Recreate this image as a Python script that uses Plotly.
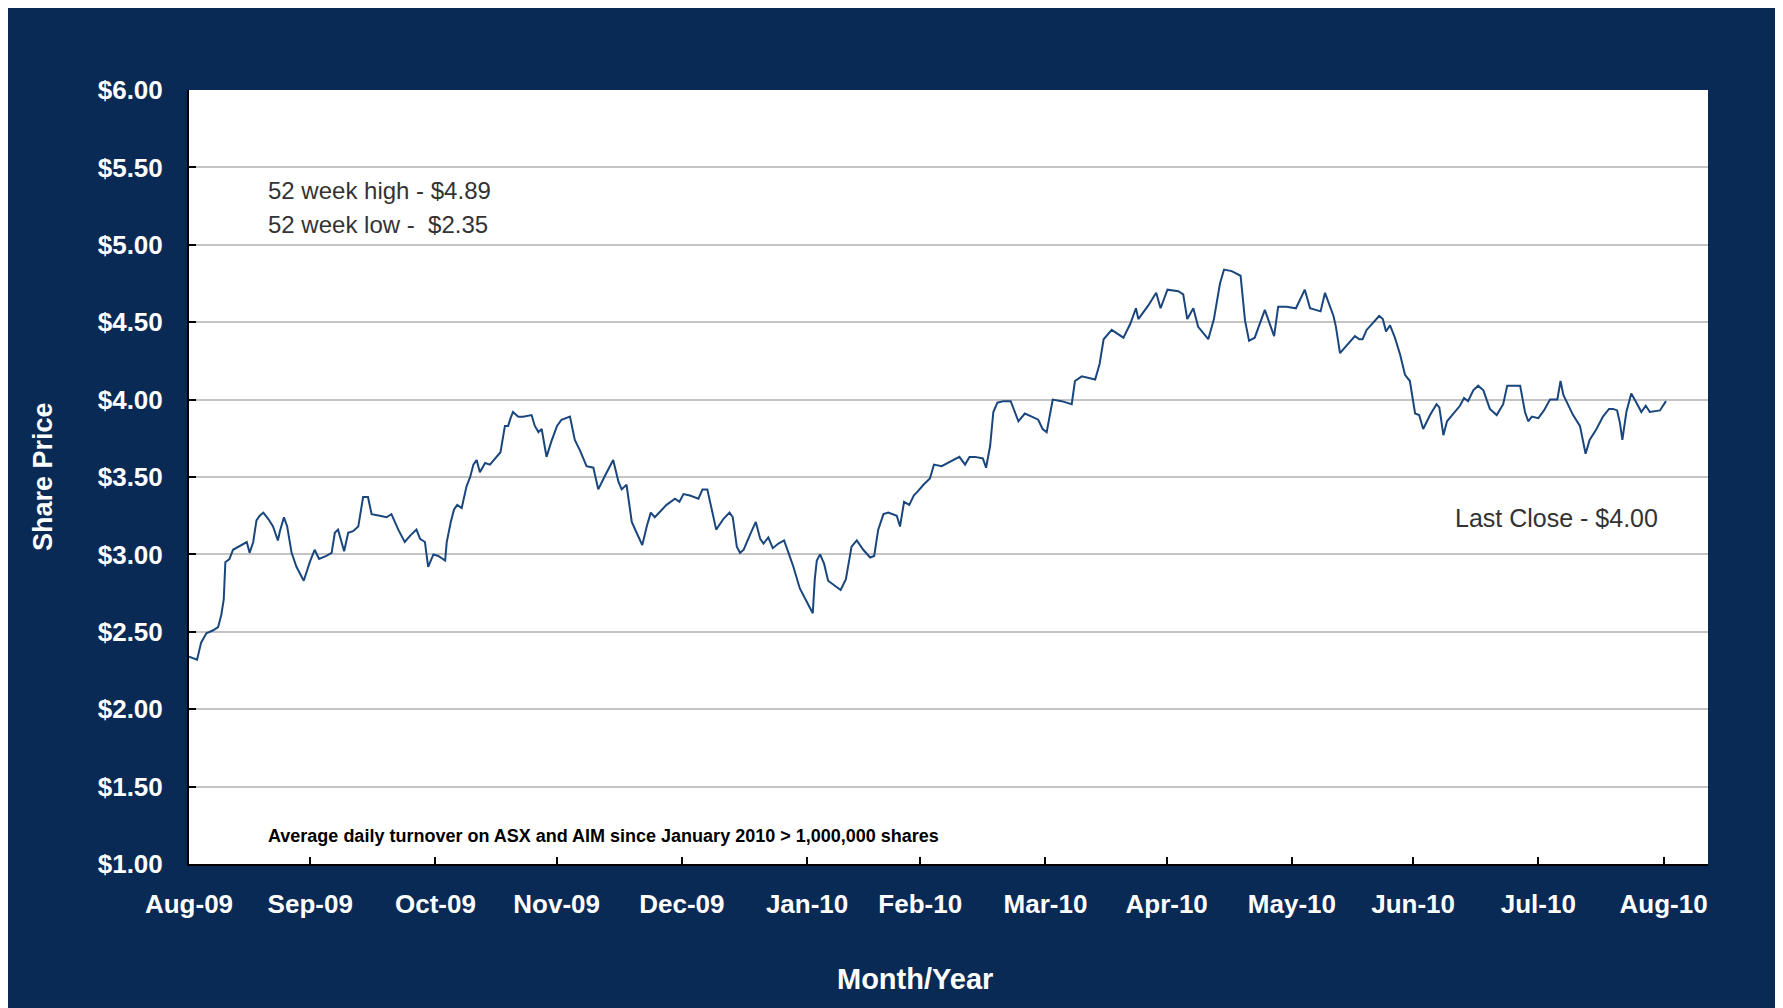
import pandas as pd
import plotly.graph_objects as go

# ---- data: days since 2009-08-01 and closing share price (AUD) ----
start_date = "2009-08-01"
days = [
    0, 2, 3, 4.3, 6, 7.2, 8, 8.6, 9, 10, 10.9, 11.6, 13, 14.3, 15, 15.9, 16.7, 17.5, 18.4, 19.6,
    20.8, 22, 22.5, 23.5, 24.3, 25.4, 26.6, 28.4, 29.9, 31.1, 32.2, 34, 35.3, 36.1, 36.9, 38.4,
    39.4, 40.6, 41.9, 43.1, 44.3, 45.2, 47.2, 48.9, 50.1, 51.8, 53.4, 54.7, 56.3, 57.2, 58.4,
    59.2, 60.5, 61.7, 63.4, 63.8, 64.8, 65.6, 66.4, 67.5, 68.7, 69.6, 70.4, 71.2, 72,
    73.3, 74.5, 75.7, 77.1, 78.2, 79, 79.6, 80.2, 81.5, 82.7, 84.8, 85.6, 86.5, 87.3, 88.5, 89.7,
    91.1, 92.2, 94.3, 95.5, 96.8, 98.4, 100.1, 101.3, 103, 105, 106.3, 107.1, 108.3, 109.6,
    110.8, 112.2, 113.3, 114.3, 115.3, 118.2, 120.3, 121.4, 122.4, 124, 126.1, 127.1, 128.3,
    129.4, 130.5, 132.3, 133.8, 134.6, 135.6, 136.4, 137.3, 138.9, 140.3, 141.4,
    142.2, 143.4, 144.5, 145.9, 147.3, 148.4, 149.6, 151.2, 152.9, 154.4, 154.9, 155.4, 156.2,
    157.2, 158.2, 159.9, 161.3, 162.6, 164, 165.3, 166.9, 168.6, 169.6, 170.6, 171.9, 173.1,
    175.2, 176, 177, 178.3, 179.4, 180.5, 181.8, 183.4, 184.4, 186.3, 188.4, 190.7, 192.1,
    193.2, 194.6, 196.5, 197.3, 198.3, 199.1, 200.1, 201.6, 203.4, 205.3, 206.9, 208.6, 210.2,
    211.3, 212.3,
    213.8, 216, 218.5, 219.3, 221, 224.3, 225.4, 226.4, 228.4, 231.3, 233, 234.4, 235, 237.5,
    239.4, 240.5, 242.2, 244.9, 246.1, 247.1, 248.6, 249.8, 252.3, 253.7, 255.2, 256.2, 258.1,
    260.3, 261.4, 262.4, 263.8, 266.3, 268.6, 269.6, 271.7, 274, 276.2, 277.5, 280.1, 281.2,
    283.3, 283.9,
    284.9, 286.5, 288.6, 289.7, 290.5, 291.5, 293.2, 294.6, 295.5, 296.3, 297.3, 298.5, 299.8,
    301, 302.2, 303.5, 304.5, 305.5, 307.2, 308.8, 309.5, 310.5, 311.4, 312.9, 314.6, 315.6,
    316.6, 317.9, 319.1, 320.4, 322, 323.7, 325.3, 326.3, 327.8, 329.5, 330.7, 331.5, 332.4,
    334, 335.4, 336.9, 338.7, 339.5, 340.2, 341.4, 342.6, 344.3, 344.9, 345.7, 346.7, 348.4,
    350, 351.5, 352.5, 353.5, 354.2, 354.8, 355.8, 357, 358.3, 359.5, 360.6, 361.6, 364.1, 365.6,
]
prices = [
    2.34, 2.32, 2.43, 2.49, 2.51, 2.53, 2.61, 2.71, 2.95, 2.97, 3.03, 3.04, 3.06, 3.08, 3.01, 3.08,
    3.22, 3.25, 3.27, 3.23, 3.18, 3.09, 3.15, 3.24, 3.18, 3.01, 2.92, 2.83, 2.95, 3.03, 2.97, 2.99,
    3.01, 3.14, 3.16, 3.02, 3.14, 3.15, 3.18, 3.37, 3.37, 3.26, 3.25, 3.24, 3.26, 3.16, 3.08, 3.12,
    3.16, 3.10, 3.08, 2.92, 3.00, 2.99, 2.96, 3.08, 3.21, 3.29, 3.32, 3.30, 3.44, 3.50, 3.58, 3.61,
    3.53,
    3.59, 3.58, 3.62, 3.66, 3.83, 3.83, 3.88, 3.92, 3.89, 3.89, 3.90, 3.83, 3.79, 3.81, 3.63, 3.73,
    3.83, 3.87, 3.89, 3.74, 3.67, 3.57, 3.56, 3.42, 3.51, 3.61, 3.47, 3.42, 3.45, 3.21, 3.14, 3.06,
    3.18, 3.27, 3.24, 3.32, 3.36, 3.34, 3.39, 3.38, 3.36, 3.42, 3.42, 3.29, 3.16, 3.23, 3.27, 3.24,
    3.05, 3.01, 3.03, 3.13, 3.21, 3.10,
    3.07, 3.11, 3.04, 3.07, 3.09, 3.01, 2.92, 2.78, 2.70, 2.62, 2.84, 2.96, 3.00, 2.94, 2.83, 2.80,
    2.77, 2.84, 3.05, 3.09, 3.03, 2.98, 2.99, 3.16, 3.26, 3.27, 3.25, 3.18, 3.34, 3.32, 3.38, 3.41,
    3.45, 3.49, 3.58, 3.57, 3.60, 3.63, 3.58, 3.63, 3.63, 3.62, 3.56, 3.70, 3.92, 3.98, 3.99, 3.99,
    3.86, 3.91, 3.89, 3.87, 3.81, 3.79,
    4.00, 3.99, 3.97, 4.12, 4.15, 4.13, 4.23, 4.39, 4.45, 4.40, 4.49, 4.59, 4.52, 4.61, 4.69, 4.59,
    4.71, 4.70, 4.68, 4.52, 4.59, 4.47, 4.39, 4.52, 4.75, 4.84, 4.83, 4.80, 4.51, 4.38, 4.40, 4.58,
    4.41, 4.60, 4.60, 4.59, 4.71, 4.59, 4.57, 4.69, 4.54, 4.47,
    4.30, 4.35, 4.41, 4.39, 4.39, 4.45, 4.50, 4.54, 4.52, 4.44, 4.48, 4.40, 4.29, 4.16, 4.12, 3.91,
    3.90, 3.81, 3.90, 3.97, 3.95, 3.77, 3.86, 3.91, 3.96, 4.01, 3.99, 4.06, 4.09, 4.06, 3.94, 3.90,
    3.97, 4.09, 4.09, 4.09, 3.92, 3.86, 3.89, 3.88, 3.93, 4.00, 4.00, 4.12, 4.03, 3.96, 3.90, 3.83,
    3.75, 3.65, 3.74, 3.81, 3.89, 3.94, 3.94, 3.93, 3.85, 3.74, 3.92, 4.04, 3.98, 3.92, 3.96, 3.92,
    3.93, 3.99,
]
# month ticks sit on the first session of each month as in the original chart
month_ticks = ["2009-08-01", "2009-08-31", "2009-10-01", "2009-10-31", "2009-12-01", "2010-01-01",
               "2010-01-29", "2010-03-01", "2010-03-31", "2010-05-01", "2010-05-31", "2010-07-01",
               "2010-08-01"]
month_labels = ["Aug-09", "Sep-09", "Oct-09", "Nov-09", "Dec-09", "Jan-10", "Feb-10", "Mar-10",
                "Apr-10", "May-10", "Jun-10", "Jul-10", "Aug-10"]
price_ticks = [1.0, 1.5, 2.0, 2.5, 3.0, 3.5, 4.0, 4.5, 5.0, 5.5, 6.0]

dates = pd.Timestamp(start_date) + pd.to_timedelta(days, unit="D")

NAVY = "#0a2a56"
BOLD = "Liberation Sans, Arial, sans-serif"
NOTE = "Liberation Sans, Arial, sans-serif"

fig = go.Figure()
fig.add_trace(go.Scatter(x=dates, y=prices, mode="lines",
                         line=dict(color="#1a467e", width=2), hoverinfo="x+y"))

fig.update_layout(
    width=1783, height=1008,
    paper_bgcolor=NAVY, plot_bgcolor="white",
    margin=dict(l=181, r=83, t=82, b=152),
    showlegend=False,
    xaxis=dict(
        type="date", range=["2009-08-01", "2010-08-12"],
        tickvals=month_ticks, ticktext=month_labels,
        ticks="inside", ticklen=7, tickcolor="black", tickwidth=1.5,
        showline=True, linecolor="black", linewidth=2,
        showgrid=False, zeroline=False,
        tickfont=dict(family=BOLD, size=26, color="white", weight="bold"),
        ticklabelstandoff=16,
    ),
    yaxis=dict(
        range=[1, 6], tickvals=price_ticks, tickformat="$.2f",
        ticks="inside", ticklen=7, tickcolor="black", tickwidth=1.5,
        showline=True, linecolor="black", linewidth=2,
        showgrid=True, gridcolor="#c4c4c4", gridwidth=1.5, zeroline=False,
        tickfont=dict(family=BOLD, size=26, color="white", weight="bold"),
        ticklabelstandoff=19,
    ),
    annotations=[
        dict(text="Share Price", textangle=-90, xref="paper", yref="paper",
             x=-0.0961, y=0.5, xanchor="center", yanchor="middle", showarrow=False,
             font=dict(family=BOLD, size=27, color="white", weight="bold")),
        dict(text="Month/Year", xref="paper", yref="paper", x=0.478, y=-0.1486,
             xanchor="center", yanchor="middle", showarrow=False,
             font=dict(family=BOLD, size=29, color="white", weight="bold")),
        dict(text="52 week high - $4.89", xref="x", yref="y", x="2009-08-20", y=5.35,
             xanchor="left", yanchor="middle", showarrow=False,
             font=dict(family=NOTE, size=24, color="#333333")),
        dict(text="52 week low -  $2.35", xref="x", yref="y", x="2009-08-20", y=5.13,
             xanchor="left", yanchor="middle", showarrow=False,
             font=dict(family=NOTE, size=24, color="#333333")),
        dict(text="Last Close - $4.00", xref="x", yref="y", x="2010-07-31", y=3.235,
             xanchor="right", yanchor="middle", showarrow=False,
             font=dict(family=NOTE, size=25, color="#333333")),
        dict(text="Average daily turnover on ASX and AIM since January 2010 > 1,000,000 shares",
             xref="x", yref="y", x="2009-08-20", y=1.18, xanchor="left", yanchor="middle",
             showarrow=False,
             font=dict(family=NOTE, size=18, color="black", weight="bold")),
    ],
)

fig.write_html("out.html")
